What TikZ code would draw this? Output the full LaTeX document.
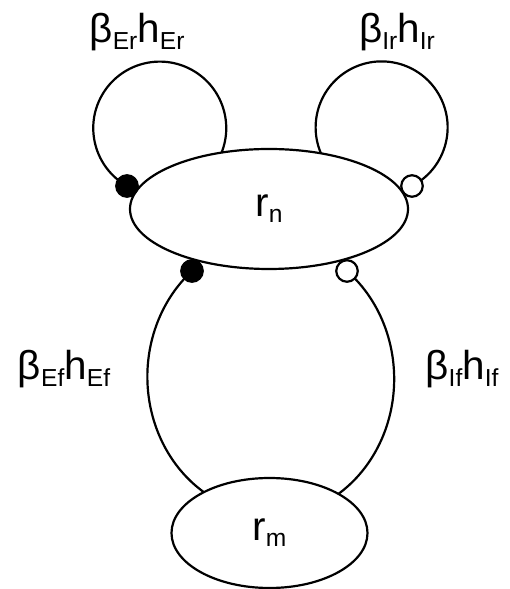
\documentclass[tikz,border=0pt]{standalone}
\usepackage{fontspec}
\setmainfont{Liberation Sans}
\usetikzlibrary{shapes.geometric,backgrounds}
\newcommand{\sbs}[1]{\raisebox{-3.5pt}{\fontsize{14}{14}\selectfont #1}}

\begin{document}
\begin{tikzpicture}[x=1cm,y=1cm]
\tikzstyle{link}=[line width=1.25pt]
\tikzstyle{pool}=[ellipse, draw, line width=1.25pt, fill=white, inner sep=0pt, font=\fontsize{23}{26}\selectfont]
\tikzstyle{excite}=[circle, draw, line width=1.25pt, fill=black, minimum size=0.43cm, inner sep=0pt]
\tikzstyle{inhib}=[circle, draw, line width=1.25pt, fill=white, minimum size=0.43cm, inner sep=0pt]
\tikzstyle{gain}=[font=\fontsize{23}{26}\selectfont, anchor=base]
\useasboundingbox (0,0) rectangle (10.18,11.78);

% populations
\node[pool, minimum width=5.56cm, minimum height=2.40cm] (rn) at (5.38,7.60) {r\sbs{n}};
\node[pool, minimum width=3.92cm, minimum height=2.20cm] (rm) at (5.39,1.12) {r\sbs{m}};

% synapses
\node[excite] (er) at (2.54,8.06) {};
\node[inhib] (ir) at (8.24,8.06) {};
\node[excite] (ef) at (3.84,6.36) {};
\node[inhib] (if) at (6.94,6.36) {};

% loops
\begin{pgfonlayer}{background}
  \draw[link] (er.center) arc[start angle=240.5, end angle=-25, radius=1.33];
  \draw[link] (ir.center) arc[start angle=-62.6, end angle=205, radius=1.32];
  \draw[link] (ef.center) arc[start angle=130, end angle=240, x radius=2.5, y radius=2.76];
  \draw[link] (if.center) arc[start angle=51.5, end angle=-60, x radius=2.5, y radius=2.76];
\end{pgfonlayer}

% gains
\node[gain] (gEr) at (2.74,10.92) {β\sbs{Er}h\sbs{Er}};
\node[gain] (gIr) at (7.94,10.92) {β\sbs{Ir}h\sbs{Ir}};
\node[gain] (gEf) at (1.28,4.18) {β\sbs{Ef}h\sbs{Ef}};
\node[gain] (gIf) at (9.24,4.18) {β\sbs{If}h\sbs{If}};
\end{tikzpicture}
\end{document}
